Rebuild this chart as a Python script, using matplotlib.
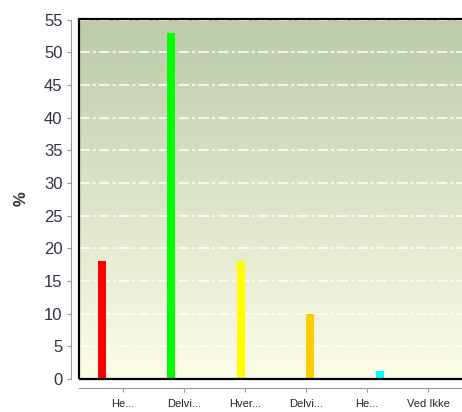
import matplotlib
matplotlib.use("Agg")
import matplotlib.pyplot as plt
from matplotlib.colors import LinearSegmentedColormap
from matplotlib.patches import Rectangle
import numpy as np

plt.rcParams['font.family'] = ['Liberation Sans', 'DejaVu Sans']

# 데이터
categories = ["He...", "Delvi...", "Hver...", "Delvi...", "He...", "Ved Ikke"]
values = [18, 53, 18, 10, 1.3, 0]
bar_colors = ["#ff0000", "#00ff00", "#ffff00", "#ffcc00", "#00ffff", "#ffffff"]
y_ticks = list(range(0, 56, 5))

fig = plt.figure(figsize=(4.62, 4.12), dpi=100)
# 플롯 영역 (오른쪽은 그림 밖으로 나감)
ax = fig.add_axes([79 / 462, 1 - 379 / 412, (490 - 79) / 462, 360 / 412])

# 배경 그라데이션
cmap = LinearSegmentedColormap.from_list("bg", ["#fdfde8", "#bccba9"])
grad = np.linspace(0, 1, 256).reshape(-1, 1)
ax.imshow(grad, cmap=cmap, aspect="auto", origin="lower",
          extent=[0, 1, 0, 1], transform=ax.transAxes, zorder=0)

x = np.arange(len(categories))
ax.bar(x, values, width=0.115, color=bar_colors, zorder=3)

step = 69.4
ax.set_xlim(-(102 - 79) / step, (490 - 102) / step)
ax.set_ylim(0, 55.1)

# 격자선
ax.set_yticks(y_ticks)
for yv in y_ticks[1:]:
    ax.axhline(yv, color="white", lw=1.1, dashes=(7, 2, 2, 2), zorder=1)

# 검은 테두리
ax.add_patch(Rectangle((0, 0), 1, 1, transform=ax.transAxes, fill=False,
                       edgecolor="black", lw=1.6, zorder=5, clip_on=False))

# 축 (떨어진 회색 축선)
for s in ["top", "right"]:
    ax.spines[s].set_visible(False)
ax.spines["left"].set_position(("outward", 5.8))
ax.spines["left"].set_bounds(0, 55)
ax.spines["left"].set_color("#999999")
ax.spines["bottom"].set_position(("outward", 6.5))
ax.spines["bottom"].set_color("#999999")

tick_pos = [(21 + 61 * i) / step for i in range(len(categories))]
ax.set_xticks(tick_pos)
ax.set_xticklabels(categories)
ax.tick_params(axis="x", length=3, color="#999999", labelsize=8,
               labelcolor="#222222", pad=5)
ax.tick_params(axis="y", length=3, color="#999999", labelsize=12,
               labelcolor="#333344", pad=3)
ax.set_ylabel("%", fontsize=12, fontweight="bold", color="#333333", labelpad=11)

fig.savefig("out.png", dpi=100)
